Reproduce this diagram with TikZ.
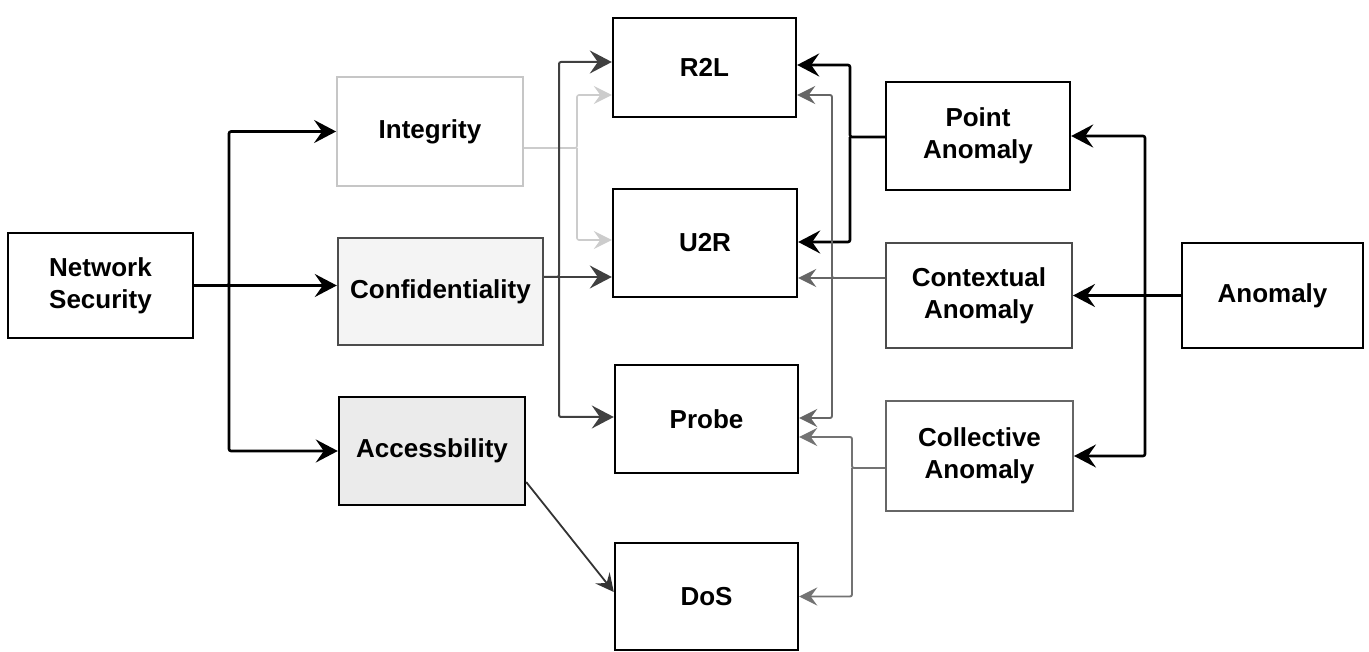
\documentclass[tikz,border=0pt]{standalone}
\usepackage{fontspec}
\setmainfont{Liberation Sans}
\usetikzlibrary{arrows.meta,calc}

\tikzset{
  bigtip/.tip={Stealth[length=22pt,width=23pt,inset=8pt]},
  midtip/.tip={Stealth[length=18pt,width=18pt,inset=6.5pt]},
}

\begin{document}
\begin{tikzpicture}[x=1pt,y=-1pt,
    box/.style={draw,line width=2.4pt,fill=white,align=center,inner sep=0pt,
      font=\fontsize{26}{32}\selectfont\bfseries},
    palebox/.style={box,draw=gray!45,line width=1.8pt},
    shadebox/.style={box,draw=black!70,fill=gray!9},
    darkbox/.style={box,fill=gray!16},
    greybox/.style={box,draw=black!70,line width=2pt},
    blklink/.style={line width=2.6pt,rounded corners=2pt,-bigtip},
    palelink/.style={line width=1.6pt,draw=gray!40,rounded corners=2pt,-midtip},
    conflink/.style={line width=2pt,draw=black!75,rounded corners=2pt,-bigtip},
    ctxlink/.style={line width=1.9pt,draw=black!60,rounded corners=2pt,-midtip},
    collink/.style={line width=1.9pt,draw=black!55,rounded corners=2pt,-midtip},
    acclink/.style={line width=1.8pt,draw=black!80,-midtip}]
\useasboundingbox (0,0) rectangle (1369,652);

% boxes
\node[box,minimum width=185pt,minimum height=105pt] (ns) at (100.5,285.5) {Network\\Security};
\node[palebox,minimum width=186pt,minimum height=109pt] (integ) at (430,131.5) {Integrity};
\node[shadebox,minimum width=205pt,minimum height=107pt] (conf) at (440.5,291.5) {Confidentiality};
\node[darkbox,minimum width=186pt,minimum height=108pt] (acc) at (432,451) {Accessbility};

\node[box,minimum width=183pt,minimum height=99pt] (r2l) at (704.5,67.5) {R2L};
\node[box,minimum width=184pt,minimum height=108pt] (u2r) at (705,243) {U2R};
\node[box,minimum width=183pt,minimum height=108pt] (probe) at (706.5,419) {Probe};
\node[box,minimum width=183pt,minimum height=107pt] (dos) at (706.5,596.5) {DoS};

\node[box,minimum width=184pt,minimum height=108pt] (point) at (978,136) {Point\\Anomaly};
\node[greybox,minimum width=186pt,minimum height=105pt] (context) at (979,295.5) {Contextual\\Anomaly};
\node[greybox,draw=black!60,minimum width=187pt,minimum height=110pt] (collect) at (979.5,456) {Collective\\Anomaly};
\node[box,minimum width=181pt,minimum height=105pt] (anom) at (1272.5,295.5) {Anomaly};

% trunks and ends
\coordinate (lt) at (229,0);
\coordinate (mt1) at (559,0);
\coordinate (mt2) at (577,0);
\coordinate (rt1) at (850,0);
\coordinate (rt2) at (832,0);
\coordinate (rt3) at (852,0);
\coordinate (ft) at (1145,0);
\coordinate (iout) at ([yshift=-16.5pt]integ.east);
\coordinate (cout) at ([yshift=14.5pt]conf.east);
\coordinate (aout) at ([yshift=-31pt]acc.east);
\coordinate (pout) at ([yshift=-1pt]point.west);
\coordinate (xout) at ([yshift=17.5pt]context.west);
\coordinate (lout) at ([yshift=-12pt]collect.west);

% network security
\draw[blklink] (ns.east) -- (ns.east -| lt) |- (integ.west);
\draw[blklink] (ns.east) -- (ns.east -| conf.west);
\draw[blklink] (ns.east -| lt) |- (acc.west);

% integrity, confidentiality, accessbility
\draw[palelink] (iout) -- (iout -| mt2) |- ([yshift=-27.5pt]r2l.west);
\draw[palelink] (iout -| mt2) |- ([yshift=3pt]u2r.west);
\draw[conflink] (cout) -- (cout -| mt1) |- ([yshift=5.5pt]r2l.west);
\draw[conflink] (cout) -- ([yshift=-34pt]u2r.west);
\draw[conflink] (cout -| mt1) |- ([yshift=2pt]probe.west);
\draw[acclink] (aout) -- ([yshift=4.5pt]dos.west);

% anomaly types
\draw[blklink] (pout) -- (pout -| rt1) |- ([yshift=2.5pt]r2l.east);
\draw[blklink] (pout -| rt1) |- ([yshift=1pt]u2r.east);
\draw[ctxlink] (xout) -- (xout -| rt2) |- ([yshift=-27.5pt]r2l.east);
\draw[ctxlink] (xout) -- ([yshift=-35pt]u2r.east);
\draw[ctxlink] (xout -| rt2) |- ([yshift=1pt]probe.east);
\draw[collink] (lout) -- (lout -| rt3) |- ([yshift=-18pt]probe.east);
\draw[collink] (lout -| rt3) |- (dos.east);

% anomaly
\draw[blklink] (anom.west) -- (anom.west -| context.east);
\draw[blklink] (anom.west -| ft) |- (point.east);
\draw[blklink] (anom.west -| ft) |- (collect.east);
\end{tikzpicture}
\end{document}
